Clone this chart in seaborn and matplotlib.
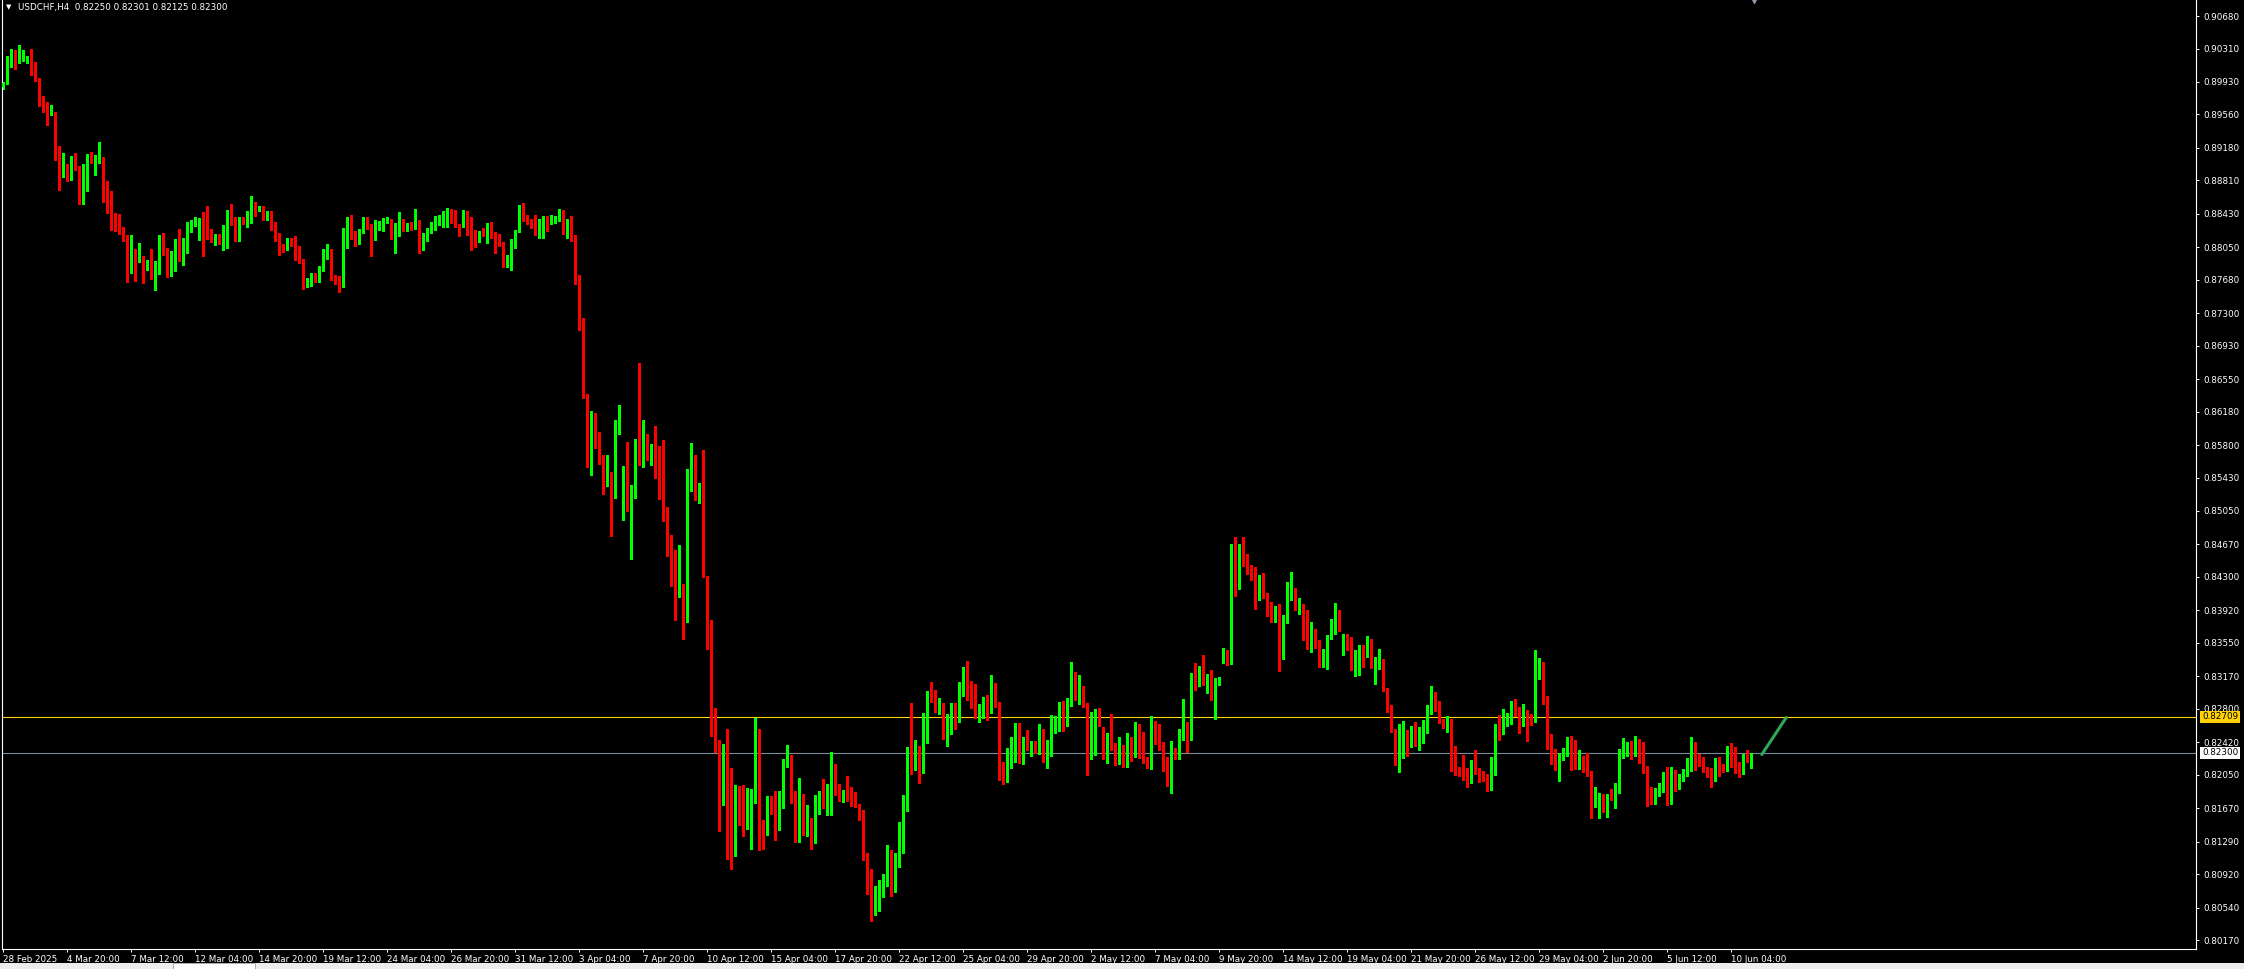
import numpy as np
import pandas as pd
import matplotlib
matplotlib.use("Agg")
import matplotlib.pyplot as plt
import matplotlib.transforms as mtransforms
from matplotlib.patches import Rectangle
import seaborn as sns

# USDCHF H4 candles (left to right)
opens = [
    0.8987, 0.8991, 0.9017, 0.9019, 0.9017, 0.9018, 0.9019, 0.9019, 0.9008, 0.8997,
    0.8966, 0.8970, 0.8956, 0.8959, 0.8913, 0.8888, 0.8897, 0.8886, 0.8908, 0.8894,
    0.8855, 0.8879, 0.8907, 0.8892, 0.8901, 0.8908, 0.8860, 0.8847, 0.8844, 0.8838,
    0.8827, 0.8813, 0.8784, 0.8792, 0.8789, 0.8788, 0.8780, 0.8783, 0.8770, 0.8785,
    0.8813, 0.8804, 0.8774, 0.8799, 0.8811, 0.8797, 0.8800, 0.8822, 0.8833, 0.8834,
    0.8836, 0.8834, 0.8819, 0.8813, 0.8815, 0.8814, 0.8820, 0.8838, 0.8838, 0.8813,
    0.8838, 0.8834, 0.8844, 0.8856, 0.8848, 0.8848, 0.8842, 0.8843, 0.8826, 0.8819,
    0.8806, 0.8802, 0.8814, 0.8812, 0.8795, 0.8792, 0.8761, 0.8762, 0.8772, 0.8769,
    0.8783, 0.8799, 0.8800, 0.8772, 0.8765, 0.8763, 0.8819, 0.8835, 0.8821, 0.8813,
    0.8822, 0.8837, 0.8831, 0.8817, 0.8826, 0.8825, 0.8834, 0.8836, 0.8816, 0.8830,
    0.8836, 0.8825, 0.8829, 0.8826, 0.8836, 0.8804, 0.8812, 0.8821, 0.8825, 0.8835,
    0.8835, 0.8838, 0.8846, 0.8843, 0.8831, 0.8829, 0.8843, 0.8830, 0.8822, 0.8811,
    0.8821, 0.8820, 0.8826, 0.8820, 0.8819, 0.8810, 0.8792, 0.8794, 0.8812, 0.8822,
    0.8849, 0.8838, 0.8835, 0.8833, 0.8821, 0.8831, 0.8840, 0.8831, 0.8836, 0.8836,
    0.8840, 0.8829, 0.8829, 0.8816, 0.8770, 0.8721, 0.8634, 0.8566, 0.8612, 0.8581,
    0.8563, 0.8542, 0.8549, 0.8526, 0.8605, 0.8544, 0.8553, 0.8509, 0.8524, 0.8581,
    0.8568, 0.8590, 0.8571, 0.8575, 0.8573, 0.8552, 0.8501, 0.8473, 0.8443, 0.8410,
    0.8420, 0.8390, 0.8545, 0.8566, 0.8527, 0.8532, 0.8431, 0.8370, 0.8257, 0.8242,
    0.8198, 0.8218, 0.8182, 0.8148, 0.8190, 0.8175, 0.8159, 0.8165, 0.8181, 0.8242,
    0.8143, 0.8139, 0.8176, 0.8168, 0.8159, 0.8181, 0.8220, 0.8227, 0.8184, 0.8131,
    0.8173, 0.8137, 0.8152, 0.8127, 0.8179, 0.8182, 0.8172, 0.8174, 0.8213, 0.8188,
    0.8182, 0.8188, 0.8184, 0.8178, 0.8171, 0.8163, 0.8112, 0.8081, 0.8054, 0.8055,
    0.8075, 0.8079, 0.8116, 0.8076, 0.8113, 0.8132, 0.8164, 0.8237, 0.8213, 0.8237,
    0.8219, 0.8273, 0.8295, 0.8293, 0.8279, 0.8285, 0.8251, 0.8262, 0.8284, 0.8266,
    0.8307, 0.8322, 0.8309, 0.8300, 0.8275, 0.8276, 0.8283, 0.8276, 0.8296, 0.8285,
    0.8218, 0.8197, 0.8232, 0.8235, 0.8258, 0.8227, 0.8242, 0.8234, 0.8241, 0.8233,
    0.8256, 0.8222, 0.8229, 0.8258, 0.8267, 0.8280, 0.8278, 0.8284, 0.8314, 0.8291,
    0.8300, 0.8283, 0.8227, 0.8238, 0.8270, 0.8252, 0.8225, 0.8252, 0.8235, 0.8219,
    0.8235, 0.8218, 0.8246, 0.8226, 0.8263, 0.8229, 0.8221, 0.8215, 0.8259, 0.8242,
    0.8242, 0.8210, 0.8208, 0.8231, 0.8224, 0.8246, 0.8260, 0.8252, 0.8309, 0.8309,
    0.8328, 0.8308, 0.8318, 0.8297, 0.8308, 0.8342, 0.8343, 0.8342, 0.8442, 0.8422,
    0.8459, 0.8455, 0.8436, 0.8430, 0.8414, 0.8420, 0.8409, 0.8389, 0.8386, 0.8395,
    0.8339, 0.8379, 0.8411, 0.8416, 0.8395, 0.8398, 0.8375, 0.8354, 0.8371, 0.8356,
    0.8332, 0.8334, 0.8362, 0.8366, 0.8389, 0.8356, 0.8364, 0.8361, 0.8324, 0.8334,
    0.8350, 0.8342, 0.8346, 0.8329, 0.8330, 0.8337, 0.8303, 0.8281, 0.8257, 0.8224,
    0.8243, 0.8251, 0.8238, 0.8247, 0.8242, 0.8248, 0.8264, 0.8282, 0.8298, 0.8284,
    0.8267, 0.8260, 0.8262, 0.8235, 0.8210, 0.8206, 0.8201, 0.8198, 0.8212, 0.8209,
    0.8207, 0.8202, 0.8196, 0.8214, 0.8260, 0.8251, 0.8268, 0.8268, 0.8280, 0.8278,
    0.8269, 0.8276, 0.8267, 0.8265, 0.8322, 0.8329, 0.8294, 0.8241, 0.8224, 0.8220,
    0.8224, 0.8228, 0.8240, 0.8238, 0.8216, 0.8220, 0.8217, 0.8207, 0.8168, 0.8175,
    0.8182, 0.8166, 0.8182, 0.8177, 0.8184, 0.8231, 0.8233, 0.8235, 0.8229, 0.8242,
    0.8238, 0.8215, 0.8179, 0.8177, 0.8187, 0.8192, 0.8197, 0.8173, 0.8200, 0.8190,
    0.8203, 0.8206, 0.8213, 0.8239, 0.8224, 0.8217, 0.8212, 0.8207, 0.8203, 0.8215,
    0.8212, 0.8210, 0.8235, 0.8217, 0.8212, 0.8207, 0.8227, 0.82250,
]
highs = [
    0.8993, 0.9022, 0.9030, 0.9029, 0.9035, 0.9029, 0.9022, 0.9030, 0.9016, 0.8997,
    0.8977, 0.8970, 0.8967, 0.8959, 0.8920, 0.8912, 0.8900, 0.8909, 0.8912, 0.8897,
    0.8900, 0.8911, 0.8913, 0.8910, 0.8925, 0.8908, 0.8880, 0.8869, 0.8844, 0.8843,
    0.8828, 0.8819, 0.8819, 0.8803, 0.8810, 0.8795, 0.8791, 0.8803, 0.8789, 0.8819,
    0.8821, 0.8804, 0.8801, 0.8814, 0.8826, 0.8816, 0.8834, 0.8836, 0.8839, 0.8838,
    0.8845, 0.8852, 0.8826, 0.8820, 0.8820, 0.8830, 0.8847, 0.8854, 0.8839, 0.8839,
    0.8839, 0.8846, 0.8863, 0.8857, 0.8852, 0.8852, 0.8846, 0.8846, 0.8834, 0.8821,
    0.8809, 0.8816, 0.8815, 0.8818, 0.8806, 0.8792, 0.8770, 0.8776, 0.8776, 0.8784,
    0.8803, 0.8809, 0.8803, 0.8773, 0.8772, 0.8827, 0.8839, 0.8842, 0.8824, 0.8826,
    0.8839, 0.8839, 0.8831, 0.8836, 0.8835, 0.8838, 0.8839, 0.8837, 0.8833, 0.8845,
    0.8837, 0.8833, 0.8834, 0.8849, 0.8836, 0.8821, 0.8827, 0.8834, 0.8841, 0.8842,
    0.8846, 0.8850, 0.8848, 0.8847, 0.8831, 0.8847, 0.8846, 0.8839, 0.8825, 0.8823,
    0.8827, 0.8833, 0.8834, 0.8822, 0.8820, 0.8811, 0.8796, 0.8814, 0.8825, 0.8853,
    0.8855, 0.8842, 0.8837, 0.8842, 0.8837, 0.8841, 0.8841, 0.8842, 0.8840, 0.8849,
    0.8847, 0.8837, 0.8840, 0.8819, 0.8773, 0.8725, 0.8638, 0.8619, 0.8616, 0.8595,
    0.8569, 0.8569, 0.8549, 0.8609, 0.8625, 0.8556, 0.8583, 0.8535, 0.8587, 0.8673,
    0.8608, 0.8592, 0.8581, 0.8602, 0.8579, 0.8586, 0.8509, 0.8478, 0.8461, 0.8466,
    0.8422, 0.8553, 0.8582, 0.8569, 0.8537, 0.8574, 0.8431, 0.8381, 0.8281, 0.8244,
    0.8240, 0.8257, 0.8213, 0.8193, 0.8192, 0.8193, 0.8190, 0.8189, 0.8269, 0.8257,
    0.8154, 0.8181, 0.8181, 0.8187, 0.8187, 0.8223, 0.8239, 0.8228, 0.8186, 0.8201,
    0.8183, 0.8171, 0.8156, 0.8182, 0.8186, 0.8200, 0.8194, 0.8231, 0.8217, 0.8194,
    0.8188, 0.8204, 0.8191, 0.8185, 0.8172, 0.8165, 0.8116, 0.8098, 0.8079, 0.8085,
    0.8092, 0.8125, 0.8119, 0.8116, 0.8151, 0.8182, 0.8236, 0.8287, 0.8245, 0.8238,
    0.8275, 0.8300, 0.8310, 0.8301, 0.8292, 0.8287, 0.8274, 0.8287, 0.8287, 0.8311,
    0.8328, 0.8334, 0.8312, 0.8308, 0.8285, 0.8293, 0.8296, 0.8318, 0.8309, 0.8288,
    0.8220, 0.8235, 0.8248, 0.8264, 0.8264, 0.8248, 0.8256, 0.8243, 0.8243, 0.8263,
    0.8257, 0.8245, 0.8273, 0.8272, 0.8288, 0.8289, 0.8292, 0.8333, 0.8322, 0.8318,
    0.8306, 0.8287, 0.8276, 0.8280, 0.8281, 0.8259, 0.8252, 0.8274, 0.8241, 0.8248,
    0.8239, 0.8252, 0.8248, 0.8265, 0.8263, 0.8254, 0.8225, 0.8272, 0.8266, 0.8263,
    0.8242, 0.8225, 0.8243, 0.8235, 0.8257, 0.8291, 0.8265, 0.8321, 0.8332, 0.8329,
    0.8341, 0.8320, 0.8324, 0.8315, 0.8316, 0.8349, 0.8347, 0.8467, 0.8475, 0.8467,
    0.8475, 0.8456, 0.8444, 0.8441, 0.8432, 0.8434, 0.8412, 0.8401, 0.8397, 0.8399,
    0.8387, 0.8424, 0.8436, 0.8417, 0.8406, 0.8399, 0.8392, 0.8379, 0.8371, 0.8358,
    0.8348, 0.8364, 0.8382, 0.8400, 0.8392, 0.8365, 0.8365, 0.8362, 0.8347, 0.8353,
    0.8353, 0.8363, 0.8359, 0.8339, 0.8348, 0.8337, 0.8304, 0.8284, 0.8257, 0.8263,
    0.8266, 0.8256, 0.8260, 0.8265, 0.8259, 0.8267, 0.8284, 0.8306, 0.8299, 0.8289,
    0.8268, 0.8272, 0.8268, 0.8238, 0.8214, 0.8227, 0.8213, 0.8222, 0.8233, 0.8213,
    0.8209, 0.8206, 0.8225, 0.8263, 0.8273, 0.8280, 0.8275, 0.8289, 0.8291, 0.8282,
    0.8286, 0.8279, 0.8274, 0.8347, 0.8338, 0.8333, 0.8295, 0.8251, 0.8234, 0.8230,
    0.8235, 0.8248, 0.8249, 0.8245, 0.8233, 0.8226, 0.8230, 0.8209, 0.8191, 0.8184,
    0.8183, 0.8183, 0.8189, 0.8196, 0.8234, 0.8247, 0.8242, 0.8243, 0.8249, 0.8246,
    0.8242, 0.8215, 0.8191, 0.8190, 0.8196, 0.8208, 0.8214, 0.8214, 0.8210, 0.8206,
    0.8212, 0.8224, 0.8248, 0.8242, 0.8229, 0.8225, 0.8214, 0.8213, 0.8224, 0.8225,
    0.8217, 0.8238, 0.8241, 0.8236, 0.8220, 0.8229, 0.8233, 0.82301,
]
lows = [
    0.8985, 0.8991, 0.9010, 0.9008, 0.9014, 0.9017, 0.9014, 0.9001, 0.8994, 0.8966,
    0.8959, 0.8944, 0.8955, 0.8904, 0.8870, 0.8885, 0.8880, 0.8882, 0.8893, 0.8854,
    0.8854, 0.8869, 0.8901, 0.8887, 0.8901, 0.8857, 0.8844, 0.8825, 0.8824, 0.8820,
    0.8812, 0.8765, 0.8776, 0.8767, 0.8788, 0.8764, 0.8779, 0.8769, 0.8756, 0.8774,
    0.8796, 0.8771, 0.8772, 0.8778, 0.8789, 0.8785, 0.8799, 0.8822, 0.8829, 0.8813,
    0.8795, 0.8814, 0.8811, 0.8808, 0.8809, 0.8802, 0.8804, 0.8830, 0.8812, 0.8812,
    0.8831, 0.8828, 0.8833, 0.8841, 0.8846, 0.8836, 0.8836, 0.8825, 0.8812, 0.8796,
    0.8800, 0.8802, 0.8806, 0.8790, 0.8787, 0.8758, 0.8760, 0.8761, 0.8765, 0.8765,
    0.8778, 0.8792, 0.8768, 0.8763, 0.8754, 0.8760, 0.8804, 0.8814, 0.8806, 0.8809,
    0.8821, 0.8826, 0.8795, 0.8813, 0.8825, 0.8824, 0.8833, 0.8814, 0.8798, 0.8818,
    0.8823, 0.8823, 0.8825, 0.8826, 0.8798, 0.8802, 0.8812, 0.8821, 0.8825, 0.8830,
    0.8828, 0.8828, 0.8833, 0.8828, 0.8818, 0.8828, 0.8819, 0.8802, 0.8805, 0.8811,
    0.8818, 0.8810, 0.8816, 0.8798, 0.8806, 0.8783, 0.8783, 0.8779, 0.8804, 0.8822,
    0.8835, 0.8831, 0.8827, 0.8819, 0.8816, 0.8815, 0.8824, 0.8831, 0.8832, 0.8835,
    0.8820, 0.8815, 0.8812, 0.8763, 0.8711, 0.8634, 0.8555, 0.8546, 0.8577, 0.8559,
    0.8524, 0.8533, 0.8476, 0.8520, 0.8593, 0.8495, 0.8505, 0.8450, 0.8520, 0.8557,
    0.8555, 0.8563, 0.8557, 0.8543, 0.8519, 0.8494, 0.8454, 0.8420, 0.8381, 0.8407,
    0.8359, 0.8379, 0.8528, 0.8517, 0.8514, 0.8430, 0.8348, 0.8249, 0.8231, 0.8141,
    0.8171, 0.8109, 0.8098, 0.8113, 0.8148, 0.8135, 0.8143, 0.8120, 0.8173, 0.8119,
    0.8120, 0.8137, 0.8160, 0.8131, 0.8142, 0.8167, 0.8214, 0.8173, 0.8128, 0.8128,
    0.8136, 0.8135, 0.8121, 0.8127, 0.8160, 0.8167, 0.8159, 0.8159, 0.8182, 0.8175,
    0.8174, 0.8175, 0.8169, 0.8168, 0.8153, 0.8108, 0.8069, 0.8039, 0.8046, 0.8050,
    0.8066, 0.8078, 0.8067, 0.8072, 0.8100, 0.8116, 0.8164, 0.8206, 0.8210, 0.8196,
    0.8207, 0.8241, 0.8288, 0.8276, 0.8274, 0.8246, 0.8238, 0.8251, 0.8257, 0.8265,
    0.8294, 0.8290, 0.8281, 0.8270, 0.8265, 0.8270, 0.8267, 0.8275, 0.8282, 0.8199,
    0.8194, 0.8197, 0.8213, 0.8220, 0.8218, 0.8217, 0.8233, 0.8226, 0.8230, 0.8229,
    0.8220, 0.8213, 0.8226, 0.8253, 0.8255, 0.8255, 0.8260, 0.8283, 0.8290, 0.8286,
    0.8282, 0.8205, 0.8223, 0.8227, 0.8260, 0.8223, 0.8218, 0.8233, 0.8216, 0.8217,
    0.8214, 0.8214, 0.8221, 0.8225, 0.8224, 0.8218, 0.8213, 0.8212, 0.8240, 0.8233,
    0.8209, 0.8192, 0.8184, 0.8223, 0.8223, 0.8245, 0.8231, 0.8245, 0.8301, 0.8306,
    0.8307, 0.8298, 0.8290, 0.8268, 0.8307, 0.8332, 0.8330, 0.8331, 0.8408, 0.8416,
    0.8442, 0.8433, 0.8427, 0.8394, 0.8404, 0.8406, 0.8386, 0.8379, 0.8379, 0.8323,
    0.8337, 0.8378, 0.8404, 0.8392, 0.8388, 0.8358, 0.8348, 0.8345, 0.8349, 0.8328,
    0.8328, 0.8325, 0.8359, 0.8365, 0.8368, 0.8341, 0.8347, 0.8324, 0.8317, 0.8318,
    0.8328, 0.8339, 0.8326, 0.8308, 0.8325, 0.8300, 0.8276, 0.8254, 0.8216, 0.8208,
    0.8224, 0.8226, 0.8237, 0.8238, 0.8233, 0.8241, 0.8253, 0.8274, 0.8278, 0.8264,
    0.8258, 0.8254, 0.8209, 0.8205, 0.8204, 0.8199, 0.8191, 0.8196, 0.8206, 0.8197,
    0.8198, 0.8187, 0.8188, 0.8205, 0.8245, 0.8251, 0.8260, 0.8263, 0.8272, 0.8253,
    0.8260, 0.8243, 0.8262, 0.8265, 0.8314, 0.8286, 0.8234, 0.8217, 0.8210, 0.8198,
    0.8222, 0.8226, 0.8210, 0.8212, 0.8212, 0.8208, 0.8204, 0.8156, 0.8168, 0.8156,
    0.8163, 0.8157, 0.8176, 0.8167, 0.8184, 0.8224, 0.8226, 0.8223, 0.8226, 0.8218,
    0.8207, 0.8169, 0.8172, 0.8172, 0.8181, 0.8185, 0.8171, 0.8172, 0.8186, 0.8189,
    0.8198, 0.8204, 0.8209, 0.8210, 0.8215, 0.8208, 0.8203, 0.8191, 0.8198, 0.8204,
    0.8208, 0.8209, 0.8214, 0.8207, 0.8203, 0.8206, 0.8220, 0.82125,
]
closes = [
    0.8992, 0.9018, 0.9019, 0.9017, 0.9027, 0.9020, 0.9020, 0.9007, 0.8996, 0.8966,
    0.8965, 0.8957, 0.8959, 0.8912, 0.8888, 0.8897, 0.8892, 0.8908, 0.8893, 0.8855,
    0.8880, 0.8906, 0.8906, 0.8902, 0.8908, 0.8859, 0.8846, 0.8843, 0.8835, 0.8826,
    0.8812, 0.8784, 0.8792, 0.8788, 0.8797, 0.8780, 0.8783, 0.8770, 0.8786, 0.8813,
    0.8803, 0.8773, 0.8800, 0.8811, 0.8797, 0.8801, 0.8824, 0.8834, 0.8835, 0.8836,
    0.8833, 0.8818, 0.8813, 0.8815, 0.8813, 0.8821, 0.8838, 0.8837, 0.8813, 0.8838,
    0.8834, 0.8845, 0.8856, 0.8848, 0.8850, 0.8842, 0.8843, 0.8825, 0.8818, 0.8805,
    0.8801, 0.8814, 0.8811, 0.8794, 0.8791, 0.8761, 0.8765, 0.8772, 0.8769, 0.8784,
    0.8801, 0.8802, 0.8772, 0.8763, 0.8763, 0.8820, 0.8835, 0.8820, 0.8814, 0.8824,
    0.8837, 0.8830, 0.8817, 0.8828, 0.8833, 0.8835, 0.8836, 0.8817, 0.8831, 0.8836,
    0.8825, 0.8829, 0.8826, 0.8836, 0.8804, 0.8813, 0.8822, 0.8826, 0.8836, 0.8837,
    0.8841, 0.8846, 0.8841, 0.8830, 0.8829, 0.8843, 0.8829, 0.8821, 0.8812, 0.8821,
    0.8820, 0.8826, 0.8819, 0.8818, 0.8808, 0.8792, 0.8796, 0.8813, 0.8824, 0.8849,
    0.8837, 0.8835, 0.8831, 0.8821, 0.8833, 0.8840, 0.8826, 0.8837, 0.8837, 0.8840,
    0.8827, 0.8830, 0.8816, 0.8769, 0.8720, 0.8634, 0.8568, 0.8612, 0.8580, 0.8561,
    0.8542, 0.8549, 0.8526, 0.8607, 0.8607, 0.8553, 0.8509, 0.8524, 0.8580, 0.8568,
    0.8590, 0.8569, 0.8575, 0.8572, 0.8551, 0.8500, 0.8471, 0.8442, 0.8411, 0.8420,
    0.8390, 0.8546, 0.8565, 0.8528, 0.8532, 0.8430, 0.8369, 0.8255, 0.8242, 0.8198,
    0.8220, 0.8181, 0.8148, 0.8190, 0.8151, 0.8159, 0.8164, 0.8182, 0.8242, 0.8143,
    0.8139, 0.8176, 0.8167, 0.8159, 0.8182, 0.8221, 0.8225, 0.8182, 0.8131, 0.8173,
    0.8137, 0.8152, 0.8127, 0.8180, 0.8182, 0.8171, 0.8175, 0.8213, 0.8188, 0.8182,
    0.8188, 0.8183, 0.8178, 0.8170, 0.8156, 0.8110, 0.8080, 0.8054, 0.8057, 0.8075,
    0.8076, 0.8116, 0.8076, 0.8113, 0.8133, 0.8165, 0.8234, 0.8213, 0.8237, 0.8219,
    0.8274, 0.8294, 0.8293, 0.8279, 0.8285, 0.8251, 0.8262, 0.8284, 0.8262, 0.8308,
    0.8322, 0.8309, 0.8300, 0.8275, 0.8284, 0.8283, 0.8277, 0.8296, 0.8284, 0.8218,
    0.8197, 0.8232, 0.8235, 0.8258, 0.8227, 0.8242, 0.8234, 0.8241, 0.8233, 0.8256,
    0.8222, 0.8229, 0.8257, 0.8268, 0.8280, 0.8278, 0.8283, 0.8314, 0.8296, 0.8300,
    0.8282, 0.8227, 0.8239, 0.8270, 0.8264, 0.8225, 0.8251, 0.8234, 0.8217, 0.8234,
    0.8221, 0.8246, 0.8226, 0.8262, 0.8226, 0.8220, 0.8216, 0.8259, 0.8241, 0.8241,
    0.8209, 0.8208, 0.8229, 0.8224, 0.8247, 0.8260, 0.8252, 0.8309, 0.8306, 0.8328,
    0.8308, 0.8318, 0.8297, 0.8309, 0.8315, 0.8343, 0.8342, 0.8442, 0.8421, 0.8459,
    0.8454, 0.8434, 0.8429, 0.8414, 0.8420, 0.8408, 0.8388, 0.8386, 0.8395, 0.8339,
    0.8380, 0.8412, 0.8416, 0.8396, 0.8398, 0.8374, 0.8354, 0.8371, 0.8353, 0.8331,
    0.8336, 0.8363, 0.8367, 0.8390, 0.8371, 0.8364, 0.8359, 0.8324, 0.8336, 0.8350,
    0.8342, 0.8346, 0.8329, 0.8330, 0.8337, 0.8301, 0.8280, 0.8256, 0.8224, 0.8245,
    0.8251, 0.8238, 0.8245, 0.8242, 0.8249, 0.8265, 0.8283, 0.8298, 0.8282, 0.8266,
    0.8259, 0.8263, 0.8234, 0.8209, 0.8209, 0.8200, 0.8198, 0.8212, 0.8208, 0.8206,
    0.8199, 0.8196, 0.8216, 0.8260, 0.8251, 0.8273, 0.8273, 0.8279, 0.8276, 0.8269,
    0.8276, 0.8266, 0.8264, 0.8323, 0.8329, 0.8292, 0.8240, 0.8222, 0.8220, 0.8225,
    0.8228, 0.8240, 0.8237, 0.8216, 0.8231, 0.8216, 0.8205, 0.8168, 0.8179, 0.8182,
    0.8165, 0.8182, 0.8177, 0.8185, 0.8231, 0.8234, 0.8235, 0.8229, 0.8242, 0.8237,
    0.8215, 0.8177, 0.8176, 0.8188, 0.8193, 0.8198, 0.8174, 0.8200, 0.8189, 0.8204,
    0.8207, 0.8214, 0.8239, 0.8223, 0.8221, 0.8210, 0.8206, 0.8203, 0.8215, 0.8210,
    0.8211, 0.8235, 0.8216, 0.8210, 0.8207, 0.8227, 0.8224, 0.82300,
]

# time labels, one every 16 bars
time_labels = [
    "28 Feb 2025", "4 Mar 20:00", "7 Mar 12:00", "12 Mar 04:00", "14 Mar 20:00",
    "19 Mar 12:00", "24 Mar 04:00", "26 Mar 20:00", "31 Mar 12:00", "3 Apr 04:00",
    "7 Apr 20:00", "10 Apr 12:00", "15 Apr 04:00", "17 Apr 20:00", "22 Apr 12:00",
    "25 Apr 04:00", "29 Apr 20:00", "2 May 12:00", "7 May 04:00", "9 May 20:00",
    "14 May 12:00", "19 May 04:00", "21 May 20:00", "26 May 12:00", "29 May 04:00",
    "2 Jun 20:00", "5 Jun 12:00", "10 Jun 04:00",
]
price_ticks = [
    0.90680, 0.90310, 0.89930, 0.89560, 0.89180, 0.88810, 0.88430, 0.88050,
    0.87680, 0.87300, 0.86930, 0.86550, 0.86180, 0.85800, 0.85430, 0.85050,
    0.84670, 0.84300, 0.83920, 0.83550, 0.83170, 0.82800, 0.82420, 0.82050,
    0.81670, 0.81290, 0.80920, 0.80540, 0.80170,
]

ask_level = 0.82709
bid_level = 0.82300
# short green projection drawn after the last bar
proj_bar = [439.7, 445.8]
proj_price = [0.8228, 0.8270]
# chart-shift marker at the top edge
shift_bar = 437.8

title_text = "USDCHF,H4  0.82250 0.82301 0.82125 0.82300"

# ------------------------------------------------------------
sns.set_style("ticks")
plt.rcParams["font.family"] = ["DejaVu Sans"]

W, H = 2244, 969
fig = plt.figure(figsize=(W / 100, H / 100), dpi=100, facecolor="black")
ax = fig.add_axes([2 / W, 20 / H, 2194 / W, 949 / H])
ax.set_facecolor("black")

df = pd.DataFrame({"open": opens, "high": highs, "low": lows, "close": closes})
df["bar"] = np.arange(len(df))
bull = df["close"] >= df["open"]
colors = np.where(bull, "#00ff00", "#ff0000")

ax.vlines(df["bar"], df["low"], df["high"], colors=colors, linewidth=0.75,
          antialiased=False, zorder=2)
body_bottom = df[["open", "close"]].min(axis=1)
body_height = (df["close"] - df["open"]).abs().clip(lower=0.0001)
ax.bar(df["bar"], body_height, bottom=body_bottom, width=0.75, color=colors,
       linewidth=0, antialiased=False, zorder=3)

ax.axhline(ask_level, color="#ffd200", linewidth=0.8, zorder=1)
ax.axhline(bid_level, color="#7a8a9a", linewidth=0.8, zorder=1)

sns.lineplot(x=proj_bar, y=proj_price, ax=ax, color="#2ea85a", linewidth=2.2,
             zorder=4, legend=False)

ax.set_xlim(-0.25, 548.25)
ax.set_ylim(0.80068, 0.90862)

ax.plot([shift_bar], [0.90862], marker="v", markersize=5, color="#8a98b0",
        clip_on=False, zorder=6)

# axes frame
for side in ["left", "right", "bottom"]:
    ax.spines[side].set_color("white")
    ax.spines[side].set_linewidth(0.8)
ax.spines["top"].set_visible(False)

ax.yaxis.tick_right()
ax.set_yticks(price_ticks)
ax.set_yticklabels([f"{v:.5f}" for v in price_ticks])
ax.set_xticks(np.arange(len(time_labels)) * 16)
ax.set_xticklabels(time_labels)
for lbl in ax.get_xticklabels():
    lbl.set_horizontalalignment("left")
ax.tick_params(axis="both", colors="white", labelcolor="white", labelsize=6.3,
               direction="out", length=2.5, width=0.7)
ax.tick_params(axis="x", pad=2)
ax.tick_params(axis="y", pad=3)
ax.set_xlabel("")
ax.set_ylabel("")

# price boxes on the scale
trans = mtransforms.blended_transform_factory(ax.transAxes, ax.transData)
ax.text(1 + 6 / 2194, ask_level, "0.82709", transform=trans, ha="left", va="center",
        fontsize=6.3, color="black", clip_on=False, zorder=10,
        bbox=dict(boxstyle="square,pad=0.18", fc="#ffd200", ec="none"))
ax.text(1 + 6 / 2194, bid_level, "0.82300", transform=trans, ha="left", va="center",
        fontsize=6.3, color="black", clip_on=False, zorder=10,
        bbox=dict(boxstyle="square,pad=0.18", fc="white", ec="none"))

# title in the top-left corner
fig.text(6 / W, 1 - 7.5 / H, "\u25BC", color="white", fontsize=5, va="center", ha="left")
fig.text(18 / W, 1 - 7.5 / H, title_text, color="white", fontsize=6.3, va="center", ha="left")

# terminal tab strip at the very bottom
fig.patches.append(Rectangle((0, 0), 1, 6 / H, transform=fig.transFigure,
                             facecolor="#ececec", edgecolor="none"))
fig.patches.append(Rectangle((173 / W, 0), 82 / W, 6 / H, transform=fig.transFigure,
                             facecolor="white", edgecolor="#a0a0a0", linewidth=0.6))

fig.savefig("out.png", dpi=100, facecolor="black")
